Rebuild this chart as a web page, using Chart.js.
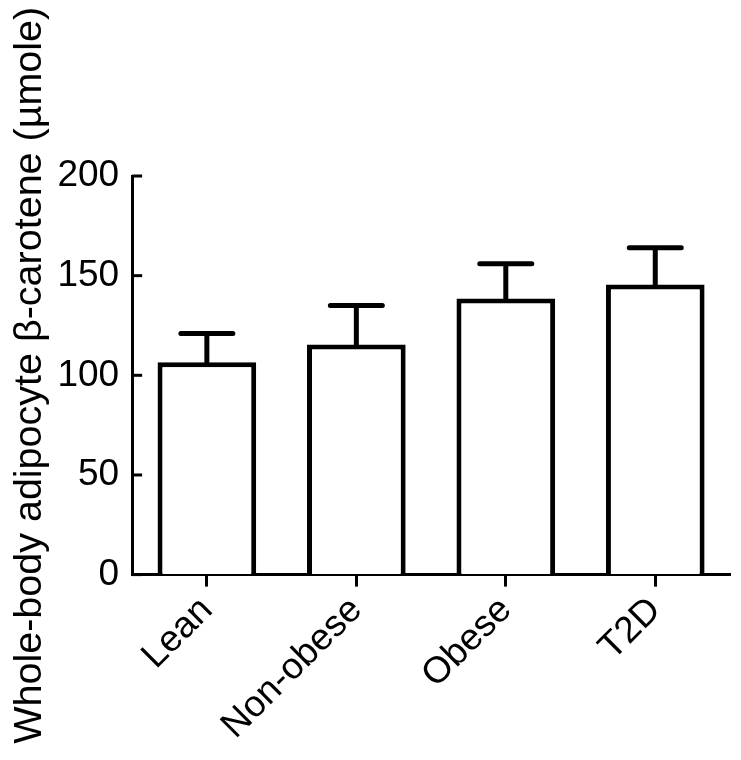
<!DOCTYPE html>
<html>
<head>
<meta charset="utf-8">
<script src="https://cdn.jsdelivr.net/npm/chart.js@4"></script>
<style>
  html, body { margin: 0; padding: 0; background: #fff; }
  #wrap { width: 741px; height: 760px; }
</style>
</head>
<body>
<div id="wrap"><canvas id="chart" width="741" height="760"></canvas></div>
<script>
// dados
const groups = ['Lean', 'Non-obese', 'Obese', 'T2D'];
const means = [106.5, 115.5, 138.5, 145.5];
const sem = [14.5, 19.5, 17.5, 18.5];
const yTicks = [0, 50, 100, 150, 200];

const FONT = 'Liberation Sans, Arial, sans-serif';

// barras de erro (só para cima) e ticks do eixo y para dentro
const errorBars = {
    id: 'errorBars',
    afterDatasetsDraw(chart) {
        const ctx = chart.ctx;
        const y = chart.scales.y;
        const meta = chart.getDatasetMeta(0);
        ctx.save();
        ctx.strokeStyle = '#000';
        ctx.lineWidth = 5;
        ctx.lineCap = 'round';
        meta.data.forEach((bar, i) => {
            const top = y.getPixelForValue(means[i]);
            const cap = y.getPixelForValue(means[i] + sem[i]);
            ctx.beginPath();
            ctx.moveTo(bar.x, top);
            ctx.lineTo(bar.x, cap);
            ctx.moveTo(bar.x - 26, cap);
            ctx.lineTo(bar.x + 26, cap);
            ctx.stroke();
        });
        ctx.restore();
    },
    afterDraw(chart) {
        const ctx = chart.ctx;
        const y = chart.scales.y;
        const left = chart.chartArea.left;
        ctx.save();
        ctx.strokeStyle = '#000';
        ctx.lineWidth = 3;
        yTicks.forEach(v => {
            const py = y.getPixelForValue(v);
            ctx.beginPath();
            ctx.moveTo(left, py);
            ctx.lineTo(left + 10, py);
            ctx.stroke();
        });
        ctx.restore();
    }
};

new Chart(document.getElementById('chart').getContext('2d'), {
    type: 'bar',
    data: {
        labels: groups,
        datasets: [{
            data: means,
            backgroundColor: '#fff',
            borderColor: '#000',
            borderWidth: 5,
            borderSkipped: 'start',
            barPercentage: 0.66,
            categoryPercentage: 1
        }]
    },
    options: {
        responsive: false,
        animation: false,
        devicePixelRatio: 1,
        layout: { padding: { top: 176, right: 11, bottom: 10, left: 6 } },
        plugins: {
            legend: { display: false },
            tooltip: { enabled: false }
        },
        scales: {
            x: {
                grid: {
                    offset: false,
                    drawOnChartArea: false,
                    drawTicks: true,
                    tickLength: 12,
                    tickWidth: 3,
                    tickColor: '#000'
                },
                border: { color: '#000', width: 3 },
                ticks: {
                    color: '#000',
                    font: { family: FONT, size: 37 },
                    minRotation: 45,
                    maxRotation: 45,
                    padding: 2
                }
            },
            y: {
                min: 0,
                max: 200,
                afterBuildTicks(scale) {
                    scale.ticks = yTicks.map(v => ({ value: v }));
                },
                grid: { drawOnChartArea: false, drawTicks: false },
                border: { color: '#000', width: 3 },
                ticks: {
                    color: '#000',
                    font: { family: FONT, size: 37 },
                    padding: 13
                },
                title: {
                    display: true,
                    text: 'Whole-body adipocyte β-carotene (µmole)',
                    color: '#000',
                    font: { family: FONT, size: 39.5 },
                    padding: { top: 0, bottom: -9 }
                }
            }
        }
    },
    plugins: [errorBars]
});
</script>
</body>
</html>
